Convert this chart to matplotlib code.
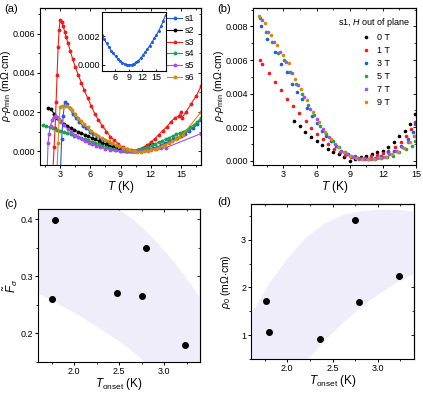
import matplotlib
matplotlib.use('Agg')
import matplotlib.pyplot as plt
from matplotlib.ticker import MultipleLocator, FormatStrFormatter

plt.rcParams['font.family'] = ['Liberation Sans', 'DejaVu Sans']
plt.rcParams['mathtext.fontset'] = 'custom'
plt.rcParams['mathtext.rm'] = 'Liberation Sans'
plt.rcParams['mathtext.it'] = 'Liberation Sans:italic'
plt.rcParams['mathtext.bf'] = 'Liberation Sans:bold'
plt.rcParams['font.size'] = 7
plt.rcParams['axes.linewidth'] = 0.8

# ---------------- (a) rho - rho_min vs T, samples s1..s6 ----------------
s1_T = [3.05, 3.15, 3.3, 3.45, 3.7, 3.95, 4.25, 4.55, 4.9, 5.25, 5.6, 5.95, 6.3, 6.65, 7.0, 7.4, 7.8, 8.2,
        8.6, 9.0, 9.4, 9.8, 10.2, 10.6, 11.0, 11.4, 11.8, 12.2, 12.6, 13.0, 13.4, 13.8, 14.2, 14.6, 15.0,
        15.4, 15.8, 16.2, 16.6, 17.0]
s1_v = [-0.0008, 0.0006, 0.0018, 0.0025, 0.0024, 0.0022, 0.0019, 0.0017, 0.0015, 0.0013, 0.0012, 0.0010,
        0.0009, 0.0008, 0.00065, 0.00055, 0.00045, 0.00035, 0.00025, 0.00015, 0.00008, 0.00003, 0.0, 0.0,
        0.00002, 0.00005, 0.0001, 0.00016, 0.0002, 0.0003, 0.0004, 0.0005, 0.0006, 0.0007, 0.0008, 0.0009,
        0.00105, 0.0012, 0.0014, 0.0016]

s2_T = [1.8, 2.1, 2.4, 2.7, 3.0, 3.35, 3.7, 4.05, 4.4, 4.75, 5.1, 5.45, 5.8, 6.15, 6.5, 6.85, 7.2, 7.55,
        7.9, 8.25, 8.6, 8.95, 9.3, 9.65, 10.0, 10.35, 10.7, 11.05, 11.4, 11.75, 12.1]
s2_v = [0.0022, 0.00215, 0.0019, 0.0017, 0.00155, 0.0014, 0.0013, 0.00118, 0.0011, 0.001, 0.00092, 0.00085,
        0.00076, 0.00068, 0.0006, 0.00052, 0.00044, 0.00036, 0.00028, 0.0002, 0.00014, 0.00008, 0.00004,
        0.00001, 0.0, 0.00002, 0.00006, 0.00012, 0.0002, 0.00028, 0.00038]

s3_T = [2.3, 2.4, 2.5, 2.6, 2.7, 2.8, 2.9, 3.0, 3.15, 3.3, 3.45, 3.6, 3.8, 4.0, 4.25, 4.5, 4.8, 5.1, 5.4,
        5.75, 6.1, 6.45, 6.8, 7.2, 7.6, 8.0, 8.4, 8.8, 9.2, 9.6, 10.0, 10.4, 10.8, 11.2, 11.6, 12.0, 12.4,
        12.8, 13.2, 13.6, 14.0, 14.4, 14.8, 15.0, 15.1, 15.5, 16.0, 16.5, 17.0]
s3_v = [-0.0008, 0.0002, 0.0012, 0.0025, 0.0039, 0.0053, 0.0062, 0.0067, 0.0066, 0.0064, 0.0061, 0.0058,
        0.0055, 0.0051, 0.0047, 0.0043, 0.0039, 0.0035, 0.0031, 0.0027, 0.0023, 0.0019, 0.0016, 0.0013,
        0.001, 0.00075, 0.00055, 0.00035, 0.0002, 0.0001, 0.00004, 0.00002, 0.00008, 0.00017, 0.0003,
        0.00045, 0.00064, 0.00085, 0.00105, 0.00125, 0.0015, 0.0017, 0.0018, 0.0020, 0.0017, 0.0020,
        0.0024, 0.0028, 0.0033]

s4_T = [1.25, 1.6, 1.95, 2.3, 2.65, 3.0, 3.35, 3.7, 4.05, 4.4, 4.75, 5.1, 5.45, 5.8, 6.15, 6.5, 6.85, 7.2,
        7.55, 7.9, 8.25, 8.6, 8.95, 9.3, 9.65, 10.0, 10.35, 10.7, 11.05, 11.4, 11.75, 12.1, 12.45, 12.8,
        13.15, 13.5, 13.85, 14.2, 14.55, 14.9, 15.25, 15.6, 15.95, 16.3, 16.65, 17.0]
s4_v = [0.00132, 0.00128, 0.00122, 0.00116, 0.0011, 0.00104, 0.00098, 0.00091, 0.00086, 0.0008, 0.00075,
        0.00068, 0.00062, 0.00055, 0.00048, 0.00042, 0.00036, 0.00029, 0.00023, 0.00017, 0.00011, 0.00006,
        0.00003, 0.00001, 0.0, 0.0, 0.00002, 0.00005, 0.0001, 0.00016, 0.00023, 0.0003, 0.00038, 0.00046,
        0.00054, 0.00062, 0.0007, 0.00078, 0.00086, 0.00093, 0.001, 0.0011, 0.00122, 0.00135, 0.0015, 0.0017]

s5_T = [1.72, 1.8, 1.9, 2.05, 2.2, 2.35, 2.5, 2.65, 2.85, 3.1, 3.4, 3.75, 4.1, 4.45, 4.8, 5.15, 5.5, 5.85,
        6.2, 6.6, 7.0, 7.5, 8.0, 8.5, 9.0, 9.5, 10.0, 10.5, 11.0, 11.5, 12.0, 12.5, 13.0, 13.5, 17.0]
s5_v = [-0.0008, 0.0004, 0.0009, 0.0013, 0.0016, 0.00175, 0.0018, 0.00175, 0.00165, 0.0015, 0.00132,
        0.00115, 0.00098, 0.00085, 0.00072, 0.0006, 0.0005, 0.00042, 0.00035, 0.00027, 0.0002, 0.00013,
        0.00008, 0.00004, 0.00002, 0.0, 0.0, 0.0, 0.0, 0.00004, 0.0001, 0.00013, 0.00015, 0.00018, 0.0009]

s6_T = [2.7, 2.8, 2.9, 3.0, 3.2, 3.45, 3.7, 3.95, 4.2, 4.5, 4.8, 5.1, 5.4, 5.75, 6.1, 6.45, 6.8, 7.15, 7.5,
        7.85, 8.2, 8.55, 8.9, 9.25, 9.6, 9.95, 10.3, 10.65, 11.0, 11.35, 11.7, 12.05, 12.4, 12.75, 13.1,
        13.45, 13.8, 14.15, 14.5, 14.85, 15.2, 17.0]
s6_v = [-0.0008, 0.0004, 0.0016, 0.00225, 0.0023, 0.00232, 0.0023, 0.0022, 0.0021, 0.0019, 0.0017, 0.00155,
        0.0014, 0.00122, 0.00105, 0.0009, 0.00078, 0.00068, 0.00058, 0.0005, 0.00042, 0.00034, 0.00026,
        0.00018, 0.00012, 0.00006, 0.00002, -0.00002, -0.00002, 0.0, 0.00003, 0.00007, 0.00012, 0.00018,
        0.00026, 0.00034, 0.00042, 0.0005, 0.0006, 0.00072, 0.00085, 0.002]

# inset of (a)
inset_T = [3.1, 3.6, 4.1, 4.6, 5.1, 5.6, 6.1, 6.6, 7.1, 7.6, 8.1, 8.6, 9.1, 9.6, 10.1, 10.6, 11.1, 11.6,
           12.1, 12.6, 13.1, 13.6, 14.1, 14.6, 15.1, 15.6, 16.1, 16.6, 17.1]
inset_v = [0.0021, 0.0018, 0.0015, 0.00125, 0.001, 0.0008, 0.0006, 0.00042, 0.00027, 0.00015, 0.00006,
           0.00001, 0.0, 0.00002, 0.00008, 0.00018, 0.0003, 0.00045, 0.00068, 0.00088, 0.0011, 0.00134,
           0.0016, 0.00185, 0.0021, 0.0024, 0.0027, 0.0031, 0.0035]

# ---------------- (b) s1 in field ----------------
b0_T = [4.0, 4.5, 5.0, 5.5, 6.0, 6.5, 7.0, 7.5, 8.0, 8.5, 9.0, 9.5, 10.0, 10.5, 11.0, 11.5, 12.0, 12.5,
        13.0, 13.5, 14.0, 14.5, 14.9]
b0_v = [0.0024, 0.0021, 0.0017, 0.0014, 0.0012, 0.00095, 0.0007, 0.0005, 0.0004, 0.00025, 0.0, 0.0001,
        0.0002, 0.0003, 0.0004, 0.0005, 0.0006, 0.0008, 0.0011, 0.0015, 0.0018, 0.0022, 0.0028]
b1_T = [0.84, 1.05, 1.71, 2.25, 2.79, 3.33, 3.9, 4.44, 5.01, 5.49, 6.03, 6.54, 7.05, 7.59, 8.1, 8.61, 9.15,
        9.75, 10.35, 10.9, 11.47, 12.0, 12.5, 13.06, 13.6, 14.1, 14.56, 14.92]
b1_v = [0.00603, 0.00579, 0.00522, 0.00472, 0.00423, 0.00371, 0.00327, 0.00284, 0.00238, 0.00198, 0.00159,
        0.00129, 0.00099, 0.00069, 0.00054, 0.00034, 0.0002, 0.00014, 0.00014, 0.00026, 0.00034, 0.00046,
        0.0006, 0.0008, 0.0011, 0.0015, 0.0019, 0.0023]
b3_T = [0.99, 1.5, 2.25, 2.76, 3.3, 3.75, 4.2, 4.65, 5.1, 5.55, 6.0, 6.45, 6.9, 7.35, 7.8, 8.25, 8.85, 9.45,
        10.05, 10.65, 11.25, 11.85, 12.45, 13.05, 13.65, 14.25, 14.7, 14.9]
b3_v = [0.008, 0.00724, 0.00649, 0.00575, 0.00526, 0.00456, 0.00407, 0.00367, 0.00317, 0.00268, 0.00228,
        0.00179, 0.00149, 0.00119, 0.00089, 0.0006, 0.0004, 0.00026, 0.00014, 0.0001, 0.00014, 0.0003,
        0.0005, 0.0006, 0.0009, 0.0013, 0.0017, 0.0022]
b5_T = [0.85, 1.4, 1.95, 2.5, 3.05, 3.6, 4.15, 4.7, 5.25, 5.8, 6.35, 6.9, 7.45, 8.0, 8.55, 9.1, 9.65, 10.2,
        10.75, 11.3, 11.85, 12.4, 12.95, 13.5, 14.05, 14.6, 14.95]
b5_v = [0.0085, 0.0077, 0.0071, 0.0064, 0.006, 0.0053, 0.0046, 0.004, 0.0033, 0.0027, 0.0021, 0.0016, 0.0012,
        0.0008, 0.0005, 0.0003, 0.00015, 0.0001, 0.00008, 0.0001, 0.00015, 0.0002, 0.0003, 0.0005, 0.0007,
        0.0009, 0.0012]
b7_T = [1.05, 1.6, 2.15, 2.7, 3.25, 3.8, 4.35, 4.9, 5.45, 6.0, 6.55, 7.1, 7.65, 8.2, 8.75, 9.3, 9.85, 10.4,
        10.95, 11.5, 12.05, 12.6, 13.15, 13.7, 14.25, 14.8]
b7_v = [0.0084, 0.0077, 0.0071, 0.0065, 0.0059, 0.0052, 0.0045, 0.0038, 0.0031, 0.0025, 0.0019, 0.0014,
        0.001, 0.0006, 0.0004, 0.0002, 0.0001, 0.00008, 0.0001, 0.00015, 0.00025, 0.0004, 0.0006, 0.0008,
        0.0011, 0.0015]
b9_T = [0.82, 1.3, 1.85, 2.4, 2.95, 3.5, 4.05, 4.6, 5.15, 5.7, 6.25, 6.8, 7.35, 7.9, 8.45, 9.0, 9.55, 10.1,
        10.65, 11.2, 11.75, 12.3, 12.85, 13.4, 13.95, 14.5, 14.95]
b9_v = [0.0086, 0.0082, 0.0075, 0.0069, 0.0063, 0.0058, 0.0049, 0.0043, 0.0036, 0.0029, 0.0023, 0.0017,
        0.0013, 0.00085, 0.0005, 0.0003, 0.00015, 0.0001, 0.00008, 0.0001, 0.00015, 0.00025, 0.0004, 0.00055,
        0.00075, 0.0011, 0.0015]

# ---------------- (c), (d) ----------------
c_Tonset = [1.756, 1.789, 2.48, 2.758, 2.80, 3.237]
c_F = [0.260, 0.398, 0.270, 0.266, 0.349, 0.180]
d_Tonset = [1.766, 1.80, 2.36, 2.75, 2.79, 3.23]
d_rho0 = [1.72, 1.06, 0.92, 3.41, 1.70, 2.23]

# guide-to-the-eye bands
c_band_x = [1.6, 2.0, 2.4, 2.5, 2.6, 2.7, 2.8, 2.9, 3.0, 3.1, 3.2, 3.3, 3.4]
c_band_hi = [0.42, 0.42, 0.42, 0.416, 0.406, 0.393, 0.378, 0.362, 0.345, 0.327, 0.306, 0.285, 0.262]
c_band_lo = [0.27, 0.237, 0.197, 0.186, 0.175, 0.162, 0.148, 0.133, 0.118, 0.10, 0.085, 0.07, 0.05]
d_band_x = [1.6, 1.8, 2.0, 2.2, 2.4, 2.6, 2.8, 3.0, 3.2, 3.4]
d_band_hi = [1.46, 2.1, 2.62, 3.05, 3.34, 3.52, 3.61, 3.64, 3.64, 3.6]
d_band_lo = [-1.5, -0.9, -0.3, 0.45, 0.88, 1.25, 1.58, 1.86, 2.1, 2.3]

colors_a = ['#1f5ce6', 'black', '#f01c1c', '#1ea24a', '#a64cf2', '#d28c0c']
colors_b = ['black', '#f01c1c', '#1f5ce6', '#1ea24a', '#a64cf2', '#d28c0c']
band_color = '#f0edfa'


def style(ax, xmaj, xmin, ymaj, ymin, yfmt, xfmt=None):
    ax.xaxis.set_major_locator(MultipleLocator(xmaj))
    ax.xaxis.set_minor_locator(MultipleLocator(xmin))
    ax.yaxis.set_major_locator(MultipleLocator(ymaj))
    ax.yaxis.set_minor_locator(MultipleLocator(ymin))
    ax.yaxis.set_major_formatter(FormatStrFormatter(yfmt))
    if xfmt:
        ax.xaxis.set_major_formatter(FormatStrFormatter(xfmt))
    ax.tick_params(which='major', direction='out', length=2.5, width=0.7, pad=1, labelsize=6.5)
    ax.tick_params(which='minor', direction='out', length=1.5, width=0.6)
    # mirrored ticks pointing inwards on top/right
    sx = ax.secondary_xaxis('top')
    sx.xaxis.set_major_locator(MultipleLocator(xmaj))
    sx.xaxis.set_minor_locator(MultipleLocator(xmin))
    sx.tick_params(which='major', direction='in', length=2, width=0.6, labeltop=False)
    sx.tick_params(which='minor', direction='in', length=1.2, width=0.5)
    sy = ax.secondary_yaxis('right')
    sy.yaxis.set_major_locator(MultipleLocator(ymaj))
    sy.yaxis.set_minor_locator(MultipleLocator(ymin))
    sy.tick_params(which='major', direction='in', length=2, width=0.6, labelright=False)
    sy.tick_params(which='minor', direction='in', length=1.2, width=0.5)


fig = plt.figure(figsize=(4.23, 3.94), dpi=100)
W, H = 423.0, 394.0


def box(l, r, t, b):
    return [l / W, 1 - b / H, (r - l) / W, (b - t) / H]


rho_label = r'$\rho$-$\rho_{\rm min}$ (m$\Omega$$\cdot$cm)'

# ---- (a)
ax = fig.add_axes(box(40, 201, 8, 165))
series_a = [(s1_T, s1_v, 's1'), (s2_T, s2_v, 's2'), (s3_T, s3_v, 's3'),
            (s4_T, s4_v, 's4'), (s5_T, s5_v, 's5'), (s6_T, s6_v, 's6')]
for (t, v, lab), c in zip(series_a, colors_a):
    ax.plot(t, v, '-o', color=c, lw=0.8, ms=1.8, label=lab)
ax.set_xlim(1, 17)
ax.set_ylim(-0.0007, 0.0073)
style(ax, 3, 1.5, 0.002, 0.001, '%.3f')
ax.set_xlabel(r'$T$ (K)', fontsize=8.5, labelpad=0)
ax.set_ylabel(rho_label, fontsize=7.5)
ax.yaxis.set_label_coords(-0.17, 0.5)
ax.legend(loc='upper right', frameon=False, fontsize=6.5, handlelength=1.7,
          handletextpad=0.3, labelspacing=0.3, borderaxespad=0.3)

axi = fig.add_axes(box(102, 166, 12, 70.5))
axi.plot(inset_T, inset_v, '-o', color=colors_a[0], lw=0.8, ms=1.2)
axi.set_xlim(3.1, 17.2)
axi.set_ylim(-0.0004, 0.0037)
axi.set_xticks([6, 9, 12, 15])
axi.set_yticks([0.0, 0.002])
axi.yaxis.set_major_formatter(FormatStrFormatter('%.3f'))
axi.tick_params(direction='in', length=1.8, width=0.6, pad=1.5, labelsize=6.5)

# ---- (b)
ax = fig.add_axes(box(253, 416, 8, 165))
series_b = [(b0_T, b0_v, '0 T'), (b1_T, b1_v, '1 T'), (b3_T, b3_v, '3 T'),
            (b5_T, b5_v, '5 T'), (b7_T, b7_v, '7 T'), (b9_T, b9_v, '9 T')]
for (t, v, lab), c in zip(series_b, colors_b):
    ax.plot(t, v, 'o', color=c, ms=2.6, mew=0, label=lab)
ax.set_xlim(0.25, 15)
ax.set_ylim(-0.00025, 0.0091)
style(ax, 3, 1.5, 0.002, 0.001, '%.3f')
ax.set_xlabel(r'$T$ (K)', fontsize=8.5, labelpad=0)
ax.set_ylabel(rho_label, fontsize=7.5)
ax.yaxis.set_label_coords(-0.166, 0.5)
leg = ax.legend(loc='upper right', frameon=False, fontsize=6.5, title=r's1, $H$ out of plane',
                title_fontsize=6.5, handletextpad=0.2, labelspacing=0.45, borderaxespad=0.3,
                bbox_to_anchor=(1.0, 0.99))

# ---- (c)
ax = fig.add_axes(box(38.3, 200, 209, 362))
ax.fill_between(c_band_x, c_band_lo, c_band_hi, color=band_color, lw=0)
ax.plot(c_Tonset, c_F, 'o', color='black', ms=4)
ax.set_xlim(1.6, 3.4)
ax.set_ylim(0.15, 0.4175)
style(ax, 0.5, 0.25, 0.1, 0.05, '%.1f', '%.1f')
ax.set_xlabel(r'$T_{\rm onset}$ (K)', fontsize=8.5, labelpad=0)
ax.set_ylabel(r'$\tilde{F}_{\sigma}$', fontsize=8.5)
ax.yaxis.set_label_coords(-0.115, 0.5)

# ---- (d)
ax = fig.add_axes(box(251, 414, 204, 359))
ax.fill_between(d_band_x, d_band_lo, d_band_hi, color=band_color, lw=0)
ax.plot(d_Tonset, d_rho0, 'o', color='black', ms=4)
ax.set_xlim(1.6, 3.4)
ax.set_ylim(0.5, 3.75)
style(ax, 0.5, 0.25, 1, 0.5, '%d', '%.1f')
ax.set_xlabel(r'$T_{\rm onset}$ (K)', fontsize=8.5, labelpad=0)
ax.set_ylabel(r'$\rho_0$ (m$\Omega$$\cdot$cm)', fontsize=7.5)
ax.yaxis.set_label_coords(-0.11, 0.5)

for lab, x, y in [('(a)', 4, 4), ('(b)', 217, 4), ('(c)', 4, 199), ('(d)', 217, 197)]:
    fig.text(x / W, 1 - y / H, lab, fontsize=8, va='top', ha='left')

fig.savefig('out.png', dpi=100)
